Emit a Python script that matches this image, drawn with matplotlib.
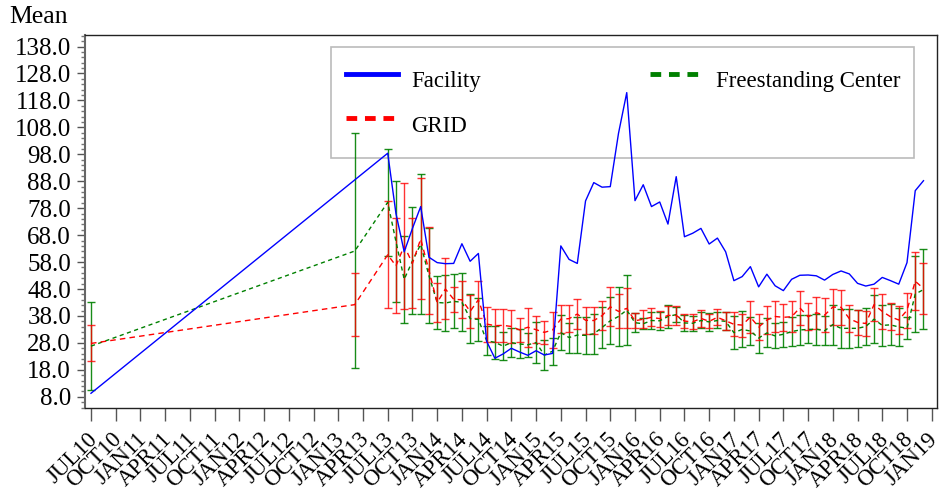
import numpy as np
import pandas as pd
import matplotlib
matplotlib.use('Agg')
import matplotlib.pyplot as plt
from matplotlib.lines import Line2D
from matplotlib.ticker import MultipleLocator, FixedLocator, FormatStrFormatter
import matplotlib.transforms as mtransforms

plt.rcParams['font.family'] = ['Liberation Serif', 'DejaVu Serif']

# months with data: Jul 2010, Mar 2013, then every month Jul 2013 - Dec 2018
periods = ['2010-07', '2013-03'] + [str(p) for p in pd.period_range('2013-07', '2018-12', freq='M')]

# Facility has no value for Mar 2013
facility = [9.3, None,
            98.4, 76.0, 61.8, 70.5, 78.6, 59.8, 57.8, 57.4, 57.5, 64.8, 58.3, 61.2,
            28.6, 22.3, 23.9, 26.0, 24.6, 23.4, 25.1, 23.5, 24.1, 64.0, 59.0, 57.5,
            80.7, 87.5, 85.8, 86.0, 105.8, 120.9, 80.8, 86.7, 78.6, 80.3, 72.1, 89.7,
            67.4, 68.7, 70.5, 64.7, 66.9, 61.8, 51.1, 52.6, 56.3, 48.8, 53.5, 49.2,
            47.4, 51.6, 53.1, 53.2, 52.9, 51.3, 53.4, 54.7, 53.6, 50.1, 49.1, 49.8,
            52.3, 51.1, 49.8, 57.8, 84.5, 88.2]

grid_mean = [27.8, 42.2,
             60.7, 56.6, 64.0, 57.5, 66.6, 54.9, 43.0, 48.0, 44.2, 44.0, 39.7, 44.0,
             35.0, 34.4, 34.5, 34.1, 32.8, 33.8, 32.9, 31.9, 32.8, 36.8, 37.0, 38.7,
             36.4, 36.3, 38.1, 41.4, 39.7, 40.8, 36.2, 36.8, 37.5, 37.0, 38.2, 38.2,
             36.1, 35.8, 37.1, 36.0, 37.5, 36.2, 34.9, 34.6, 37.6, 33.9, 36.5, 37.8,
             37.5, 37.7, 41.0, 37.7, 39.2, 38.3, 41.3, 41.2, 37.0, 35.6, 35.2, 42.2,
             39.7, 37.7, 36.5, 40.1, 50.9, 48.2]
grid_low = [21.1, 30.5,
            40.8, 39.0, 40.5, 40.8, 44.2, 38.7, 35.9, 36.7, 39.6, 37.1, 33.6, 37.1,
            28.4, 28.2, 28.3, 28.0, 28.5, 26.6, 27.8, 27.6, 26.0, 31.5, 32.1, 33.1,
            31.4, 31.3, 32.7, 34.3, 33.4, 33.4, 33.4, 33.4, 34.3, 34.0, 34.6, 34.6,
            33.4, 33.0, 34.0, 33.4, 34.6, 32.8, 30.6, 30.3, 31.8, 29.1, 31.2, 32.1,
            32.5, 31.9, 34.7, 32.7, 33.3, 32.1, 34.7, 34.7, 31.9, 31.1, 30.6, 36.0,
            33.3, 32.7, 31.2, 33.7, 40.2, 38.6]
grid_high = [34.7, 53.8,
             80.7, 74.2, 87.5, 74.2, 89.1, 71.1, 50.1, 59.4, 48.8, 51.0, 45.8, 51.0,
             41.5, 40.6, 40.7, 40.2, 37.1, 41.0, 38.0, 36.2, 39.6, 42.1, 41.9, 44.3,
             41.4, 41.4, 43.6, 48.6, 46.0, 48.3, 39.0, 40.2, 40.8, 39.9, 41.8, 41.8,
             38.9, 38.6, 40.2, 38.7, 40.5, 39.6, 39.3, 38.9, 43.5, 38.7, 41.8, 43.5,
             42.6, 43.6, 47.3, 42.8, 45.1, 44.5, 47.9, 47.7, 42.1, 40.2, 39.9, 48.5,
             46.1, 42.7, 41.8, 46.6, 61.6, 57.8]

free_mean = [26.8, 62.1,
             80.2, 65.6, 51.6, 58.4, 64.6, 53.0, 43.0, 42.8, 43.4, 43.1, 37.0, 36.7,
             28.8, 28.2, 26.8, 28.1, 27.6, 27.3, 28.1, 23.5, 24.9, 31.8, 30.0, 30.9,
             30.8, 31.4, 33.7, 36.2, 37.8, 40.2, 35.5, 35.1, 36.3, 36.2, 37.8, 38.5,
             35.4, 35.3, 36.3, 35.8, 36.3, 36.0, 31.8, 33.0, 32.4, 29.8, 31.7, 30.6,
             31.2, 32.2, 32.8, 33.0, 33.1, 32.5, 34.8, 33.4, 33.4, 33.4, 34.1, 36.8,
             34.5, 34.7, 33.9, 33.5, 46.1, 47.8]
free_low = [10.5, 18.5,
            60.4, 43.0, 35.5, 38.6, 38.6, 35.5, 33.3, 32.5, 33.4, 32.5, 28.1, 28.7,
            23.5, 22.1, 21.5, 22.9, 22.3, 22.9, 20.6, 17.9, 19.9, 25.3, 24.4, 24.4,
            23.8, 24.0, 26.0, 27.5, 27.0, 27.2, 32.1, 33.1, 33.0, 32.9, 33.6, 35.6,
            32.5, 32.5, 33.4, 32.5, 33.4, 32.8, 25.6, 26.3, 27.2, 24.1, 26.3, 26.0,
            26.6, 26.8, 27.4, 27.8, 27.4, 27.2, 27.4, 26.2, 26.2, 26.6, 27.2, 28.0,
            26.8, 27.2, 26.8, 29.3, 31.9, 33.0]
free_high = [43.0, 105.8,
             100.0, 88.2, 67.8, 78.3, 90.7, 70.5, 52.7, 53.2, 53.5, 53.8, 46.0, 44.8,
             34.2, 34.4, 32.1, 33.4, 33.0, 31.7, 35.6, 29.1, 29.9, 38.3, 35.5, 37.5,
             37.7, 38.9, 41.4, 44.9, 48.6, 53.2, 39.0, 37.2, 39.6, 39.6, 42.0, 41.4,
             38.3, 38.1, 39.3, 39.0, 39.3, 39.3, 38.1, 39.8, 37.7, 35.4, 37.1, 35.3,
             35.9, 37.7, 38.3, 38.3, 38.9, 37.9, 42.2, 40.7, 40.7, 40.2, 41.0, 45.7,
             42.2, 42.3, 41.1, 37.7, 60.4, 62.7]

tick_labels = ['JUL10', 'OCT10', 'JAN11', 'APR11', 'JUL11', 'OCT11', 'JAN12', 'APR12',
               'JUL12', 'OCT12', 'JAN13', 'APR13', 'JUL13', 'OCT13', 'JAN14', 'APR14',
               'JUL14', 'OCT14', 'JAN15', 'APR15', 'JUL15', 'OCT15', 'JAN16', 'APR16',
               'JUL16', 'OCT16', 'JAN17', 'APR17', 'JUL17', 'OCT17', 'JAN18', 'APR18',
               'JUL18', 'OCT18', 'JAN19']

# month index counted from Jul 2010
start = pd.Period('2010-07', freq='M')
x = np.array([(pd.Period(p, freq='M') - start).n for p in periods])
fac = np.array([np.nan if v is None else v for v in facility], dtype=float)
ok = ~np.isnan(fac)

fig = plt.figure(figsize=(9.41, 4.92), dpi=100)
ax = fig.add_axes([0.0903, 0.170, 0.9051, 0.7595])

green = '#008000'
red = '#ff0000'
blue = '#0000ff'

ax.errorbar(x, free_mean, yerr=[np.array(free_mean) - np.array(free_low),
                                np.array(free_high) - np.array(free_mean)],
            fmt='none', ecolor=green, elinewidth=1.0, capsize=3, capthick=1.0, alpha=0.9, zorder=2)
ax.errorbar(x, grid_mean, yerr=[np.array(grid_mean) - np.array(grid_low),
                                np.array(grid_high) - np.array(grid_mean)],
            fmt='none', ecolor=red, elinewidth=1.0, capsize=3, capthick=1.0, alpha=0.8, zorder=3)
ax.plot(x, free_mean, color=green, lw=1.0, linestyle=(0, (3, 2.5)), zorder=4)
ax.plot(x, grid_mean, color=red, lw=1.0, linestyle=(0, (4, 3)), zorder=4)
ax.plot(x[ok], fac[ok], color=blue, lw=1.0, zorder=5)

ax.set_xlim(-0.73, 102.6)
ax.set_ylim(3.7, 142.4)

ax.yaxis.set_major_locator(FixedLocator(np.arange(8, 139, 10)))
ax.yaxis.set_major_formatter(FormatStrFormatter('%.1f'))
ax.yaxis.set_minor_locator(MultipleLocator(2))
ax.set_xticks(np.arange(0, 103, 3))
ax.set_xticklabels(tick_labels, rotation=45, ha='right', va='center',
                   rotation_mode='anchor', fontsize=16.5)
ax.tick_params(axis='y', which='major', labelsize=18, length=6, width=1, color='#555555', pad=4)
ax.tick_params(axis='y', which='minor', length=3, width=1, color='#777777')
ax.tick_params(axis='x', which='major', length=9, width=1, color='#555555', pad=11)

shift = mtransforms.ScaledTranslation(3 / 100, 0, fig.dpi_scale_trans)
for lab in ax.get_xticklabels():
    lab.set_transform(lab.get_transform() + shift)

for s in ['top', 'right', 'bottom']:
    ax.spines[s].set_color('#222222')
    ax.spines[s].set_linewidth(1.0)
ax.spines['left'].set_color('#666666')
ax.spines['left'].set_linewidth(1.5)

fig.text(0.010, 0.966, 'Mean', fontsize=18.5, va='center', ha='left')

handles = [Line2D([], [], color=blue, lw=3.5),
           Line2D([], [], color=red, lw=3.5, dashes=(2.2, 1.6)),
           Line2D([], [], color=green, lw=3.5, dashes=(2.2, 1.6))]
leg = ax.legend(handles, ['Facility', 'GRID', 'Freestanding Center'], ncol=2,
                loc='upper left', bbox_to_anchor=(0.289, 0.968), fontsize=16.5,
                frameon=True, fancybox=False, edgecolor='#aaaaaa', facecolor='none',
                handlelength=2.3, handleheight=2.2, handletextpad=0.55, columnspacing=7.4,
                labelspacing=0.25, borderpad=0.63, borderaxespad=0)
leg.get_frame().set_linewidth(1.2)
leg.set_zorder(1)

fig.savefig('out.png', dpi=100)
